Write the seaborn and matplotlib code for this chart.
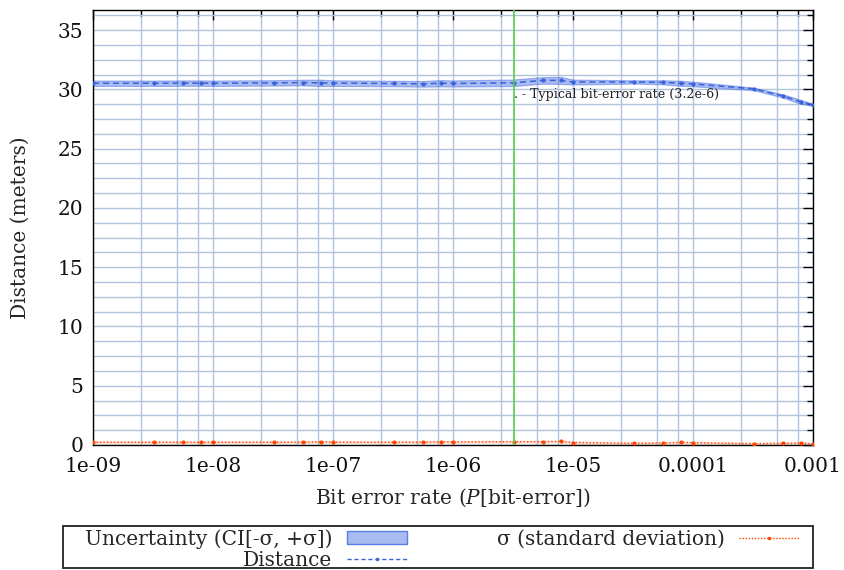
import numpy as np
import pandas as pd
import matplotlib
matplotlib.use("Agg")
import matplotlib.pyplot as plt
import seaborn as sns
from matplotlib.lines import Line2D
from matplotlib.patches import Patch, Rectangle
from matplotlib.ticker import (FixedLocator, FixedFormatter, LogLocator,
                               MultipleLocator, NullFormatter)

# Bit error rates sampled per decade (1, 3.2, 5.6, 7.9 x 10^k)
ber = [1e-9, 3.2e-9, 5.6e-9, 7.9e-9,
       1e-8, 3.2e-8, 5.6e-8, 7.9e-8,
       1e-7, 3.2e-7, 5.6e-7, 7.9e-7,
       1e-6, 3.2e-6, 5.6e-6, 7.9e-6,
       1e-5, 3.2e-5, 5.6e-5, 7.9e-5,
       1e-4, 3.2e-4, 5.6e-4, 7.9e-4,
       1e-3]

# Estimated distance (meters)
distance = [30.52, 30.52, 30.53, 30.53,
            30.52, 30.55, 30.58, 30.55,
            30.53, 30.50, 30.47, 30.52,
            30.50, 30.56, 30.76, 30.76,
            30.62, 30.63, 30.60, 30.52,
            30.46, 30.05, 29.45, 28.95,
            28.70]

# Standard deviation of the distance estimate (meters)
sigma = [0.23, 0.23, 0.23, 0.23,
         0.23, 0.23, 0.24, 0.27,
         0.24, 0.23, 0.24, 0.27,
         0.26, 0.28, 0.28, 0.30,
         0.21, 0.14, 0.17, 0.22,
         0.20, 0.11, 0.14, 0.17,
         0.09]

x_ticks = [1e-9, 1e-8, 1e-7, 1e-6, 1e-5, 1e-4, 1e-3]
x_tick_labels = ["1e-09", "1e-08", "1e-07", "1e-06", "1e-05", "0.0001", "0.001"]
typical_ber = 3.2e-6
typical_label = ". - Typical bit-error rate (3.2e-6)"

sns.set_theme(style="white")
plt.rcParams["font.family"] = ["DejaVu Serif"]
plt.rcParams["mathtext.fontset"] = "dejavuserif"

df = pd.DataFrame({"ber": ber, "distance": distance, "sigma": sigma})
df["lo"] = df["distance"] - df["sigma"]
df["hi"] = df["distance"] + df["sigma"]

W, H = 845, 570
fig = plt.figure(figsize=(W / 100, H / 100), dpi=100)
ax = fig.add_axes([93 / W, 1 - 445 / H, 720 / W, 435 / H])

band_color = "#4169e1"
line_color = "#3a62da"
sigma_color = "#ff4500"

# Uncertainty band around the distance
ax.fill_between(df["ber"], df["lo"], df["hi"], color=band_color, alpha=0.45,
                linewidth=0.8, edgecolor=band_color, zorder=2)

sns.lineplot(data=df, x="ber", y="distance", ax=ax, color=line_color,
             linestyle=(0, (4, 2.5)), linewidth=1.1, marker="o", markersize=3,
             markeredgewidth=0, errorbar=None, zorder=3)

# Faint halo under the sigma curve
ax.fill_between(df["ber"], df["sigma"] - 0.12, df["sigma"] + 0.12,
                color=sigma_color, alpha=0.18, linewidth=0, zorder=2)
sns.lineplot(data=df, x="ber", y="sigma", ax=ax, color=sigma_color,
             linestyle=(0, (1, 1.5)), linewidth=1.0, marker="o", markersize=3,
             markeredgewidth=0, errorbar=None, zorder=3)

ax.axvline(typical_ber, color="#55cc44", linewidth=1.2, zorder=4)
ax.text(typical_ber, 29.6, typical_label, fontsize=9.1, ha="left",
        va="center", color="#222222", zorder=5)

ax.set_xscale("log")
ax.set_xlim(1e-9, 1e-3)
ax.set_ylim(0, 36.7)

ax.xaxis.set_major_locator(FixedLocator(x_ticks))
ax.xaxis.set_major_formatter(FixedFormatter(x_tick_labels))
ax.xaxis.set_minor_locator(LogLocator(base=10, subs=[2.5, 5.0, 7.5], numticks=20))
ax.xaxis.set_minor_formatter(NullFormatter())
ax.yaxis.set_major_locator(MultipleLocator(5))
ax.yaxis.set_minor_locator(MultipleLocator(1.25))

ax.set_axisbelow(True)
ax.grid(which="both", color="#b0c4de", linewidth=1.0)

ax.tick_params(which="both", direction="in", top=True, right=True,
               color="black", labelsize=14.5, labelcolor="#111111")
ax.tick_params(which="major", length=7, width=1.0)
ax.tick_params(axis="x", which="major", pad=9)
ax.tick_params(axis="y", which="major", pad=7)
ax.tick_params(which="minor", length=4, width=1.0)
for s in ax.spines.values():
    s.set_color("black")
    s.set_linewidth(1.0)
    s.set_visible(True)

ax.set_xlabel("Bit error rate ($P$[bit-error])", fontsize=14.5, labelpad=7)
ax.set_ylabel("Distance (meters)", fontsize=14.5, labelpad=20)

# Legend box below the plot
fig.add_artist(Rectangle((63 / W, 2 / H), 750 / W, 42 / H,
                         transform=fig.transFigure, facecolor="white",
                         edgecolor="#222222", linewidth=1.3, zorder=1))

handles = [
    Patch(facecolor="#a9bcf2", edgecolor="#5a7de6", linewidth=1.0),
    Line2D([], [], color=line_color, linestyle=(0, (3, 2)), linewidth=1.0,
           marker="o", markersize=2.5, markeredgewidth=0),
    Line2D([], [], color=sigma_color, linestyle=(0, (1, 1.2)), linewidth=1.0,
           marker="o", markersize=2.5, markeredgewidth=0),
]
labels = ["Uncertainty (CI[-σ, +σ])", "Distance", "σ (standard deviation)"]
leg = fig.legend(handles, labels, loc="lower left",
                 bbox_to_anchor=(85 / W, 0.0, 714 / W, 40 / H),
                 mode="expand", ncol=2, markerfirst=False, fontsize=14.5,
                 frameon=False, borderpad=0.0, labelspacing=0.12,
                 handlelength=3.0, handleheight=0.55, handletextpad=0.7,
                 columnspacing=1.0, numpoints=1, borderaxespad=0)
leg.set_zorder(2)

fig.savefig("out.png", dpi=100)
